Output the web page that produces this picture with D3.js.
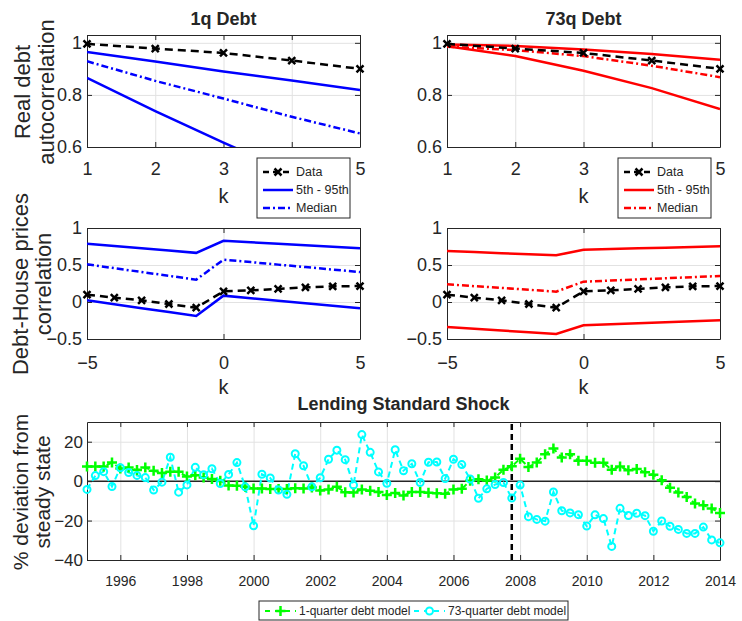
<!DOCTYPE html>
<html>
<head>
<meta charset="utf-8">
<script src="https://cdn.jsdelivr.net/npm/d3@7"></script>
<style>
  body { margin: 0; background: #fff; }
  text { font-family: "Liberation Sans", Arial, sans-serif; fill: #262626; }
</style>
</head>
<body>
<div id="chart"></div>
<script>
// ---- data ----
const kAuto = [1, 2, 3, 4, 5];
const autoData = [0.996, 0.978, 0.961, 0.932, 0.900];
const auto1qLow = [0.865, 0.738, 0.617, 0.500, 0.390];
const auto1qHigh = [0.965, 0.928, 0.890, 0.855, 0.819];
const auto1qMed = [0.929, 0.854, 0.786, 0.716, 0.652];
const auto73qLow = [0.987, 0.949, 0.893, 0.826, 0.746];
const auto73qHigh = [0.994, 0.988, 0.974, 0.957, 0.935];
const auto73qMed = [0.985, 0.972, 0.949, 0.912, 0.868];

const kCorr = [-5, -4, -3, -2, -1, 0, 1, 2, 3, 4, 5];
const corrData = [0.099, 0.059, 0.023, -0.027, -0.077, 0.144, 0.158, 0.176, 0.198, 0.212, 0.216];
const corr1qHigh = [0.786, 0.756, 0.725, 0.695, 0.664, 0.827, 0.807, 0.787, 0.767, 0.747, 0.727];
const corr1qMed = [0.509, 0.457, 0.405, 0.354, 0.302, 0.572, 0.539, 0.505, 0.472, 0.438, 0.405];
const corr1qLow = [0.023, -0.030, -0.083, -0.136, -0.189, 0.086, 0.051, 0.017, -0.017, -0.052, -0.086];
const corr73qHigh = [0.689, 0.675, 0.660, 0.646, 0.631, 0.707, 0.716, 0.725, 0.734, 0.743, 0.752];
const corr73qMed = [0.239, 0.214, 0.190, 0.165, 0.140, 0.275, 0.290, 0.305, 0.321, 0.336, 0.351];
const corr73qLow = [-0.338, -0.362, -0.385, -0.409, -0.432, -0.315, -0.302, -0.288, -0.275, -0.261, -0.248];

// quarterly, 1995Q1 .. 2014Q1
const quarters = d3.range(77).map(i => 1995 + i / 4);
const shock1q = [7.4, 7.4, 7.4, 9.4, 6.4, 6.9, 5.6, 6.9, 5.3, 4.1, 4.8, 4.8, 2.3, 3.0, 1.8, 1.1,
  0.2, -2.2, -2.3, -2.8, -3.7, -3.7, -4.0, -4.0, -4.0, -3.6, -3.7, -3.2, -4.7, -4.2, -2.9, -5.6,
  -5.8, -4.2, -4.9, -5.5, -7.0, -6.0, -7.3, -5.5, -5.5, -5.9, -6.1, -6.4, -4.2, -3.9, 0.2, 1.0,
  0.3, 1.9, 5.8, 7.5, 11.4, 7.2, 9.4, 13.7, 16.5, 12.0, 13.6, 10.4, 10.4, 9.3, 9.3, 5.8,
  7.4, 5.5, 6.1, 4.5, 3.2, 0.4, -3.4, -5.7, -8.0, -11.4, -12.2, -13.9, -16.1];
const shock73q = [-4.2, 2.8, 4.8, -2.7, 6.8, 4.4, 2.9, 1.8, -4.5, -0.5, 12.1, -5.6, -1.9, 7.0, 3.2, 6.3,
  -1.2, 3.4, 9.4, -2.9, -22.6, 3.5, 1.6, -4.5, -6.7, 13.9, 7.8, -2.9, 1.7, 11.1, 15.7, 10.9,
  -2.0, 23.6, 14.6, 4.7, -1.1, 15.9, 5.3, 8.8, -0.7, 9.6, 9.7, 1.3, 11.1, 8.4, 1.1, -8.7,
  -3.9, -1.7, -0.7, -8.6, -2.0, -18.0, -19.4, -20.3, -5.5, -15.0, -16.1, -17.0, -22.8, -17.1, -19.0, -33.1,
  -13.8, -17.4, -16.3, -17.5, -25.4, -20.2, -22.9, -24.5, -26.5, -26.5, -23.3, -29.8, -31.3];
const shockDate = 2007.75;

const yearTicks = [1996, 1998, 2000, 2002, 2004, 2006, 2008, 2010, 2012, 2014];

const BLUE = '#0000ff', RED = '#ff0000', GREEN = '#00ff00', CYAN = '#00ffff';
const DASH = '8,5', DASHDOT = '7,3,2,3';

const svg = d3.select('#chart').append('svg')
  .attr('width', 742).attr('height', 621);

let clipCount = 0;

function panel(o) {
  const x = d3.scaleLinear().domain(o.xDomain).range([o.x0, o.x1]);
  const y = d3.scaleLinear().domain(o.yDomain).range([o.y1, o.y0]);
  const g = svg.append('g');

  // grid
  g.append('g').attr('transform', `translate(0,${o.y1})`)
    .call(d3.axisBottom(x).tickValues(o.xTicks).tickSize(-(o.y1 - o.y0)).tickFormat(''))
    .call(s => { s.select('.domain').remove(); s.selectAll('line').attr('stroke', '#e2e2e2'); });
  g.append('g').attr('transform', `translate(${o.x0},0)`)
    .call(d3.axisLeft(y).tickValues(o.yTicks).tickSize(-(o.x1 - o.x0)).tickFormat(''))
    .call(s => { s.select('.domain').remove(); s.selectAll('line').attr('stroke', '#e2e2e2'); });

  // axes
  const styleAxis = s => {
    s.select('.domain').attr('stroke', '#262626').attr('stroke-width', 1);
    s.selectAll('.tick line').attr('stroke', '#262626');
    s.selectAll('text').attr('fill', '#262626').attr('font-family', null);
  };
  g.append('g').attr('transform', `translate(0,${o.y1})`)
    .call(d3.axisBottom(x).tickValues(o.xTicks).tickSizeInner(-5).tickSizeOuter(0)
      .tickPadding(o.xPad).tickFormat(o.xFmt || d3.format('')))
    .attr('font-size', o.xFont)
    .call(styleAxis);
  g.append('g').attr('transform', `translate(0,${o.y0})`)
    .call(d3.axisTop(x).tickValues(o.xTicks).tickSizeInner(-5).tickSizeOuter(0).tickFormat(''))
    .call(styleAxis);
  g.append('g').attr('transform', `translate(${o.x0},0)`)
    .call(d3.axisLeft(y).tickValues(o.yTicks).tickSizeInner(-5).tickSizeOuter(0)
      .tickPadding(o.yPad).tickFormat(o.yFmt || d3.format('')))
    .attr('font-size', o.yFont)
    .call(styleAxis);
  g.append('g').attr('transform', `translate(${o.x1},0)`)
    .call(d3.axisRight(y).tickValues(o.yTicks).tickSizeInner(-5).tickSizeOuter(0).tickFormat(''))
    .call(styleAxis);

  const id = 'clip' + (clipCount++);
  svg.append('clipPath').attr('id', id).append('rect')
    .attr('x', o.x0).attr('y', o.y0).attr('width', o.x1 - o.x0).attr('height', o.y1 - o.y0);
  const plot = g.append('g').attr('clip-path', `url(#${id})`);
  const marks = g.append('g');
  return { x, y, g, plot, marks };
}

function line(p, xs, ys, color, dash, width) {
  p.plot.append('path')
    .datum(xs.map((v, i) => [v, ys[i]]))
    .attr('d', d3.line().x(d => p.x(d[0])).y(d => p.y(d[1])))
    .attr('fill', 'none').attr('stroke', color)
    .attr('stroke-width', width || 2.5)
    .attr('stroke-dasharray', dash || null);
}

const crossPath = 'M-3.5,-3.5L3.5,3.5M-3.5,3.5L3.5,-3.5';
const plusPath = 'M-5,0L5,0M0,-5L0,5';

function markers(p, xs, ys, shape, color, width) {
  const sel = p.marks.selectAll(null).data(xs.map((v, i) => [v, ys[i]])).enter();
  if (shape === 'o') {
    sel.append('circle').attr('cx', d => p.x(d[0])).attr('cy', d => p.y(d[1])).attr('r', 3.5)
      .attr('fill', 'none').attr('stroke', color).attr('stroke-width', width);
  } else {
    sel.append('path').attr('d', shape === 'x' ? crossPath : plusPath)
      .attr('transform', d => `translate(${p.x(d[0])},${p.y(d[1])})`)
      .attr('fill', 'none').attr('stroke', color).attr('stroke-width', width);
  }
}

function label(txt, x, y, size, opts = {}) {
  svg.append('text').attr('x', x).attr('y', y)
    .attr('font-size', size).attr('text-anchor', opts.anchor || 'middle')
    .attr('font-weight', opts.bold ? 'bold' : null)
    .attr('fill', opts.color || '#262626')
    .attr('transform', opts.rotate ? `rotate(-90,${x},${y})` : null)
    .text(txt);
}

function legendBox(x, y, w, h, entries, sampleW, fontSize) {
  const lg = svg.append('g');
  lg.append('rect').attr('x', x).attr('y', y).attr('width', w).attr('height', h)
    .attr('fill', '#fff').attr('stroke', '#262626').attr('stroke-width', 1);
  entries.forEach(e => {
    lg.append('line').attr('x1', e.x).attr('x2', e.x + sampleW).attr('y1', e.y).attr('y2', e.y)
      .attr('stroke', e.color).attr('stroke-width', e.width || 2.5).attr('stroke-dasharray', e.dash || null);
    const cx = e.x + sampleW / 2;
    if (e.marker === 'o') {
      lg.append('circle').attr('cx', cx).attr('cy', e.y).attr('r', 3.5).attr('fill', '#fff')
        .attr('stroke', e.color).attr('stroke-width', 2);
    } else if (e.marker) {
      lg.append('path').attr('d', e.marker === 'x' ? crossPath : plusPath)
        .attr('transform', `translate(${cx},${e.y})`).attr('fill', 'none')
        .attr('stroke', e.color).attr('stroke-width', 2.5);
    }
    lg.append('text').attr('x', e.x + sampleW + 3).attr('y', e.y).attr('dy', '0.35em')
      .attr('font-size', fontSize).text(e.label);
  });
}

// ---- top row: autocorrelation ----
const autoOpts = {
  y0: 35, y1: 147, xDomain: [1, 5], yDomain: [0.6, 1.03],
  xTicks: kAuto, yTicks: [0.6, 0.8, 1], xPad: 15, yPad: 5, xFont: 18, yFont: 18,
  yFmt: d => (d === 1 ? '1' : d3.format('.1f')(d)),
};
const pA = panel({ ...autoOpts, x0: 87, x1: 360 });
line(pA, kAuto, auto1qHigh, BLUE);
line(pA, kAuto, auto1qLow, BLUE);
line(pA, kAuto, auto1qMed, BLUE, DASHDOT);
line(pA, kAuto, autoData, '#000', DASH);
markers(pA, kAuto, autoData, 'x', '#000', 2.5);

const pB = panel({ ...autoOpts, x0: 447, x1: 720 });
line(pB, kAuto, auto73qHigh, RED);
line(pB, kAuto, auto73qLow, RED);
line(pB, kAuto, auto73qMed, RED, DASHDOT);
line(pB, kAuto, autoData, '#000', DASH);
markers(pB, kAuto, autoData, 'x', '#000', 2.5);

// ---- middle row: debt / house price correlation ----
const corrOpts = {
  y0: 228, y1: 339, xDomain: [-5, 5], yDomain: [-0.5, 1],
  xTicks: [-5, 0, 5], yTicks: [-0.5, 0, 0.5, 1], xPad: 17, yPad: 5, xFont: 18, yFont: 18,
  yFmt: d => (Number.isInteger(d) ? String(d) : d3.format('.1f')(d)),
};
const pC = panel({ ...corrOpts, x0: 87, x1: 360 });
line(pC, kCorr, corr1qHigh, BLUE);
line(pC, kCorr, corr1qLow, BLUE);
line(pC, kCorr, corr1qMed, BLUE, DASHDOT);
line(pC, kCorr, corrData, '#000', DASH);
markers(pC, kCorr, corrData, 'x', '#000', 2.5);

const pD = panel({ ...corrOpts, x0: 447, x1: 720 });
line(pD, kCorr, corr73qHigh, RED);
line(pD, kCorr, corr73qLow, RED);
line(pD, kCorr, corr73qMed, RED, DASHDOT);
line(pD, kCorr, corrData, '#000', DASH);
markers(pD, kCorr, corrData, 'x', '#000', 2.5);

// ---- bottom: lending standard shock ----
const pE = panel({
  x0: 87, x1: 720, y0: 422, y1: 560, xDomain: [1995, 2014], yDomain: [-40, 30],
  xTicks: yearTicks, yTicks: [-40, -20, 0, 20], xPad: 16, yPad: 4, xFont: 14, yFont: 17,
});
line(pE, [1995, 2014], [0, 0], '#262626', null, 1.5);
line(pE, [shockDate, shockDate], [-40, 30], '#000', '6,4', 2.5);
line(pE, quarters, shock1q, GREEN, '6,4', 2);
line(pE, quarters, shock73q, CYAN, '6,4', 2);
markers(pE, quarters, shock1q, '+', GREEN, 2.5);
markers(pE, quarters, shock73q, 'o', CYAN, 2);

// ---- titles and axis labels ----
label('1q Debt', 223.5, 25, 18, { bold: true, color: '#000' });
label('73q Debt', 583.5, 25, 18, { bold: true, color: '#000' });
label('Lending Standard Shock', 403.5, 410, 18, { bold: true, color: '#000' });
label('k', 223.5, 203, 20);
label('k', 583.5, 203, 20);
label('k', 223.5, 394, 20);
label('k', 583.5, 394, 20);
label('Real debt', 30, 92, 22, { rotate: true });
label('autocorrelation', 54, 92, 22, { rotate: true });
label('Debt-House prices', 28, 284, 22, { rotate: true });
label('correlation', 51, 284, 22, { rotate: true });
label('% deviation from', 28, 492, 21, { rotate: true });
label('steady state', 50, 492, 21, { rotate: true });

// ---- legends ----
function bandLegend(x, color) {
  const sx = x + 6;
  legendBox(x, 158, 93, 60, [
    { x: sx, y: 172, color: '#000', dash: '6,4', marker: 'x', label: 'Data' },
    { x: sx, y: 190, color, label: '5th - 95th' },
    { x: sx, y: 208, color, dash: DASHDOT, label: 'Median' },
  ], 30, 12.5);
}
bandLegend(257, BLUE);
bandLegend(618, RED);

legendBox(259, 601, 309, 19, [
  { x: 265, y: 611, color: GREEN, dash: '5,5', width: 2, marker: '+', label: '1-quarter debt model' },
  { x: 414, y: 611, color: CYAN, dash: '5,5', width: 2, marker: 'o', label: '73-quarter debt model' },
], 31, 12);
</script>
</body>
</html>
